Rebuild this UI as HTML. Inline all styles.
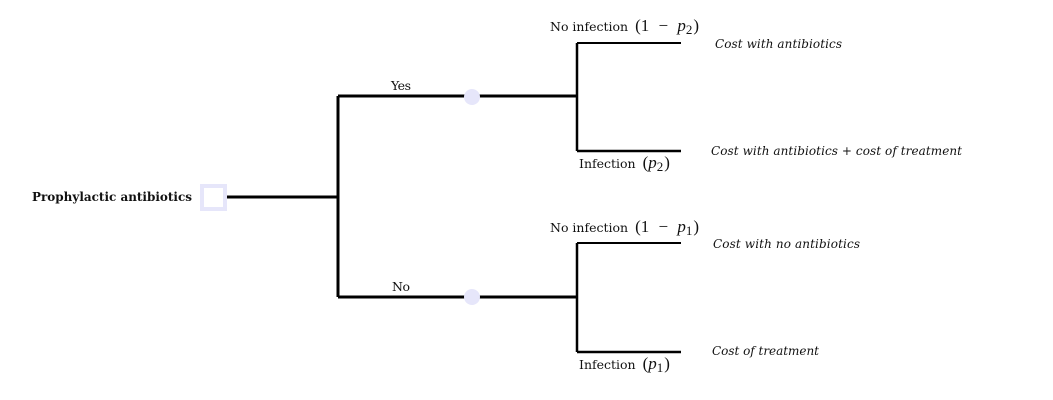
<!DOCTYPE html>
<html><head><style>body{margin:0;background:#fff}svg{display:block}text{font-family:"DejaVu Serif","Liberation Serif",serif;font-size:12.5px;fill:#111}.i{font-style:italic;font-size:12px}.m{font-family:"Liberation Serif",serif;font-size:17px}</style></head>
<body>
<svg width="1053" height="400" viewBox="0 0 1053 400" xmlns="http://www.w3.org/2000/svg">
<g stroke="#000" fill="none" stroke-width="3">
<path d="M227 197H338M338 96V297M338 96H576M338 297H576"/>
<path d="M577 96V43M577 96V151M577 151H681M577 297V243M577 297V352M577 352H681" stroke-width="2.5"/>
<path d="M577 43H681M577 243H681" stroke-width="2"/>
</g>
<rect x="202" y="186" width="23" height="23" fill="#fff" stroke="#e6e6fa" stroke-width="4"/>
<circle cx="472" cy="97" r="8" fill="#e6e6fa"/>
<circle cx="472" cy="297" r="8" fill="#e6e6fa"/>
<text x="32" y="201" font-weight="bold" textLength="160" lengthAdjust="spacingAndGlyphs">Prophylactic antibiotics</text>
<text x="391" y="90" textLength="20">Yes</text>
<text x="392" y="291" textLength="18">No</text>
<text x="550" y="31">No infection <tspan class="m" dx="3">(1 <tspan dx="5">−</tspan> <tspan dx="5" font-style="italic">p</tspan><tspan font-size="13" dy="3">2</tspan><tspan dy="-3" dx="1">)</tspan></tspan></text>
<text x="579" y="168">Infection <tspan class="m" dx="3">(<tspan font-style="italic">p</tspan><tspan font-size="13" dy="3">2</tspan><tspan dy="-3" dx="1">)</tspan></tspan></text>
<text x="550" y="232">No infection <tspan class="m" dx="3">(1 <tspan dx="5">−</tspan> <tspan dx="5" font-style="italic">p</tspan><tspan font-size="13" dy="3">1</tspan><tspan dy="-3" dx="1">)</tspan></tspan></text>
<text x="579" y="369">Infection <tspan class="m" dx="3">(<tspan font-style="italic">p</tspan><tspan font-size="13" dy="3">1</tspan><tspan dy="-3" dx="1">)</tspan></tspan></text>
<text class="i" x="715" y="48" textLength="127">Cost with antibiotics</text>
<text class="i" x="711" y="155" textLength="251">Cost with antibiotics + cost of treatment</text>
<text class="i" x="713" y="248" textLength="147">Cost with no antibiotics</text>
<text class="i" x="712" y="355" textLength="107">Cost of treatment</text>
</svg>
</body></html>
